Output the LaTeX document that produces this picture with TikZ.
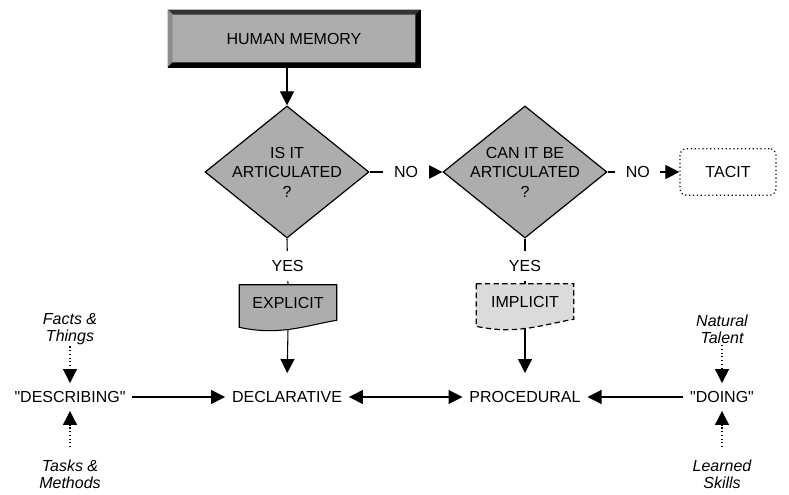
\documentclass[tikz,border=0pt]{standalone}
\usepackage{fontspec}
\setmainfont{Liberation Sans}
\newfontfamily\qfont{Liberation Sans}[Ligatures=Common]
\usetikzlibrary{arrows.meta,shapes.geometric,calc}
\newcommand{\sq}{{\qfont\symbol{34}}}
\begin{document}
\begin{tikzpicture}[x=0.75pt,y=-0.75pt,
  every node/.style={font=\fontsize{12}{14.6}\selectfont},
  tip/.tip={Triangle[length=10.5pt,width=10.5pt]},
  arr/.style={-tip, line width=0.8pt},
  darr/.style={tip-tip, line width=0.8pt},
  dotarr/.style={-tip, line width=0.8pt, dotted},
  dia/.style={diamond, draw, line width=0.9pt, fill=black!32, minimum width=123pt, minimum height=99pt, inner sep=0pt},
  diatext/.style={align=center, font=\fontsize{12}{14.6}\selectfont},
  hmnode/.style={draw, fill=black!32, minimum width=189pt, minimum height=42.75pt, inner sep=0pt},
  docnode/.style={minimum width=72.75pt, minimum height=33pt, inner sep=0pt},
  lbl/.style={fill=white, inner xsep=8pt, inner ysep=7pt},
  rowtext/.style={inner xsep=5pt, inner ysep=6pt},
  ital/.style={align=center, inner sep=1pt, font=\fontsize{12}{13}\selectfont\itshape},
  tacitbox/.style={draw, dotted, line width=0.9pt, rounded corners=5pt, minimum width=72pt, minimum height=35pt}
]
\useasboundingbox (0,0) rectangle (789,495);

% HUMAN MEMORY bevelled box
\node[hmnode] (hm) at (294,38.5) {};
\fill[black!80] (hm.north west) -- (hm.north east) -- ($(hm.north east)+(-5,5)$) -- ($(hm.north west)+(5,5)$) -- cycle;
\fill[black!45] (hm.north west) -- (hm.south west) -- ($(hm.south west)+(5,-5)$) -- ($(hm.north west)+(5,5)$) -- cycle;
\fill[black] (hm.north east) -- (hm.south east) -- ($(hm.south east)+(-5,-5)$) -- ($(hm.north east)+(-5,5)$) -- cycle;
\fill[black] (hm.south west) -- (hm.south east) -- ($(hm.south east)+(-5,-5)$) -- ($(hm.south west)+(5,-5)$) -- cycle;
\node (hmT) at (hm) {HUMAN MEMORY};

% diamonds
\node[dia] (d1) at (287,172) {};
\node[diatext] (d1T) at (d1) {IS IT\\ARTICULATED\\?};
\node[dia] (d2) at (525,172) {};
\node[diatext] (d2T) at (d2) {CAN IT BE\\ARTICULATED\\?};

% TACIT
\node[tacitbox] (tc) at (728,172) {TACIT};

% EXPLICIT document
\node[docnode] (ex) at (288,307) {};
\filldraw[fill=black!32, line width=0.8pt] (ex.north west) -- (ex.north east) -- ($(ex.south east)+(0,-9)$)
  .. controls ($(ex.south east)+(-30,-4)$) and ($(ex.south west)+(40,7)$) .. ($(ex.south west)+(0,-2)$) -- cycle;
\node (exT) at (288,303) {EXPLICIT};

% IMPLICIT document
\node[docnode] (im) at (525,306) {};
\filldraw[fill=black!14, line width=0.9pt, dash pattern=on 4pt off 2.5pt] (im.north west) -- (im.north east) -- ($(im.south east)+(0,-9)$)
  .. controls ($(im.south east)+(-30,-4)$) and ($(im.south west)+(40,7)$) .. ($(im.south west)+(0,-2)$) -- cycle;
\node (imT) at (525,302) {IMPLICIT};

% bottom row
\node[rowtext] (desc) at (70,397) {\sq DESCRIBING\sq};
\node[rowtext] (decl) at (287,397) {DECLARATIVE};
\node[rowtext] (proc) at (525,397) {PROCEDURAL};
\node[rowtext] (doing) at (722,397) {\sq DOING\sq};

% italic sources
\node[ital] (ft) at (70,329) {Facts \&\\Things};
\node[ital] (tm) at (70,474) {Tasks \&\\Methods};
\node[ital] (nt) at (722,329) {Natural\\Talent};
\node[ital] (ls) at (722,474) {Learned\\Skills};

% connectors
\draw[arr] (d1.north |- hm.south) -- (d1.north);
\draw[arr] (d1.east) -- node[lbl]{NO} (d2.west);
\draw[arr] (d2.east) -- node[lbl, pos=0.42]{NO} (tc.west);
\draw[line width=0.8pt] (d1.south) -- node[lbl, pos=0.6]{YES} (ex.north);
\draw[line width=0.8pt] (d2.south) -- node[lbl, pos=0.6]{YES} (im.north);
\draw[arr, shorten >=7.5pt] (ex.south) -- (decl.north);
\draw[arr, shorten >=7.5pt] (im.south) -- (proc.north);
\draw[arr] (desc) -- (decl);
\draw[darr] (decl) -- (proc);
\draw[arr] (doing) -- (proc);
\draw[dotarr] (ft.south) -- (desc.north);
\draw[dotarr, shorten <=8pt] (tm.north) -- (desc.south);
\draw[dotarr] (nt.south) -- (doing.north);
\draw[dotarr, shorten <=8pt] (ls.north) -- (doing.south);
\end{tikzpicture}
\end{document}
